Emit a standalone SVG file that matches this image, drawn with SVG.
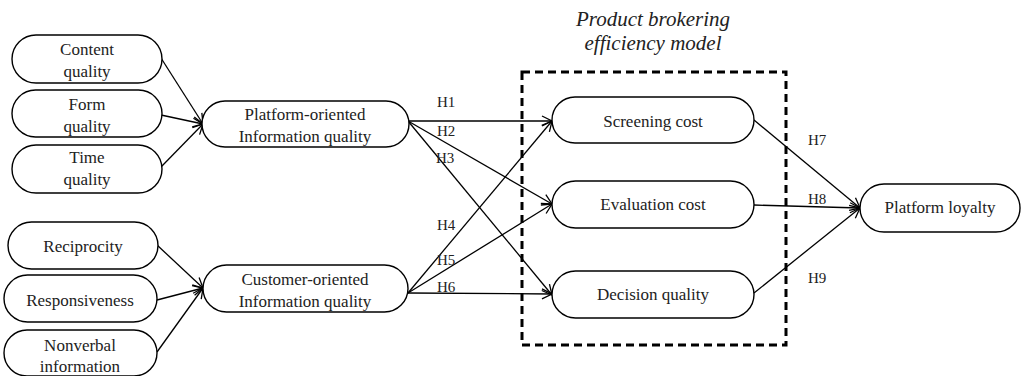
<svg xmlns="http://www.w3.org/2000/svg" width="1022" height="376" viewBox="0 0 1022 376" font-family="Liberation Serif, Times New Roman, serif">
<style>
.n rect{fill:#fff;stroke:#000;stroke-width:1.4}
text{font-family:'Liberation Serif','Times New Roman',serif;font-size:17px;fill:#222;text-anchor:middle}
.lbl{font-size:15px;text-anchor:start}
.ttl{font-size:21px;font-style:italic}
#edges line{stroke:#000;stroke-width:1.3;fill:none}
.arr{marker-end:url(#a)}
</style>
<defs>
<marker id="a" viewBox="0 0 12 12" refX="11" refY="6" markerWidth="12" markerHeight="12" markerUnits="userSpaceOnUse" orient="auto">
<path d="M1,1 L11,6 L1,11" fill="none" stroke="#000" stroke-width="1.3"/>
</marker>
</defs>
<rect width="1022" height="376" fill="#fff"/>
<text class="ttl" x="653" y="26">Product brokering</text>
<text class="ttl" x="653" y="50">efficiency model</text>
<rect id="model" x="522" y="72" width="264" height="273" fill="none" stroke="#000" stroke-width="3" stroke-dasharray="8,5"/>
<g id="edges">
<line class="arr" x1="161" y1="58" x2="203" y2="124"/>
<line class="arr" x1="161" y1="115" x2="203" y2="124"/>
<line class="arr" x1="161" y1="167" x2="203" y2="124"/>
<line class="arr" x1="157" y1="245" x2="203" y2="288"/>
<line class="arr" x1="157" y1="300" x2="203" y2="288"/>
<line class="arr" x1="157" y1="352" x2="203" y2="288"/>
<line class="arr" x1="408" y1="121" x2="552" y2="121"/>
<line class="arr" x1="408" y1="121" x2="552" y2="204"/>
<line class="arr" x1="408" y1="121" x2="552" y2="295"/>
<line class="arr" x1="408" y1="293" x2="552" y2="121"/>
<line class="arr" x1="408" y1="293" x2="552" y2="204"/>
<line class="arr" x1="408" y1="293" x2="552" y2="294"/>
<line class="arr" x1="754" y1="120" x2="860" y2="208"/>
<line class="arr" x1="754" y1="205" x2="860" y2="208"/>
<line class="arr" x1="754" y1="293" x2="860" y2="208"/>
</g>
<g id="hlabels">
<text class="lbl" x="437" y="107">H1</text>
<text class="lbl" x="437" y="136">H2</text>
<text class="lbl" x="436" y="163">H3</text>
<text class="lbl" x="437" y="230">H4</text>
<text class="lbl" x="437" y="265">H5</text>
<text class="lbl" x="437" y="292">H6</text>
<text class="lbl" x="808" y="145">H7</text>
<text class="lbl" x="808" y="204">H8</text>
<text class="lbl" x="808" y="283">H9</text>
</g>
<g id="content" class="n"><rect x="12" y="35" width="150" height="48" rx="24"/><text x="87" y="55">Content</text><text x="87" y="77">quality</text></g>
<g id="form" class="n"><rect x="12" y="90" width="150" height="47" rx="23.5"/><text x="87" y="110">Form</text><text x="87" y="132">quality</text></g>
<g id="time" class="n"><rect x="12" y="145" width="150" height="48" rx="24"/><text x="87" y="163">Time</text><text x="87" y="185">quality</text></g>
<g id="platform" class="n"><rect x="202" y="101" width="207" height="46" rx="23"/><text x="305" y="120">Platform-oriented</text><text x="305" y="142">Information quality</text></g>
<g id="reciprocity" class="n"><rect x="8" y="222" width="150" height="47" rx="23.5"/><text x="83" y="252">Reciprocity</text></g>
<g id="responsiveness" class="n"><rect x="4" y="275" width="153" height="47" rx="23.5"/><text x="80" y="306">Responsiveness</text></g>
<g id="nonverbal" class="n"><rect x="4" y="330" width="153" height="46" rx="23"/><text x="80" y="351">Nonverbal</text><text x="80" y="372">information</text></g>
<g id="customer" class="n"><rect x="203" y="265" width="205" height="47" rx="23.5"/><text x="305" y="285">Customer-oriented</text><text x="305" y="307">Information quality</text></g>
<g id="screening" class="n"><rect x="552" y="97" width="202" height="46" rx="23"/><text x="653" y="127">Screening cost</text></g>
<g id="evaluation" class="n"><rect x="552" y="181" width="202" height="47" rx="23.5"/><text x="653" y="210">Evaluation cost</text></g>
<g id="decision" class="n"><rect x="552" y="271" width="202" height="47" rx="23.5"/><text x="653" y="300">Decision quality</text></g>
<g id="loyalty" class="n"><rect x="860" y="184" width="160" height="48" rx="24"/><text x="940" y="213">Platform loyalty</text></g>
</svg>
